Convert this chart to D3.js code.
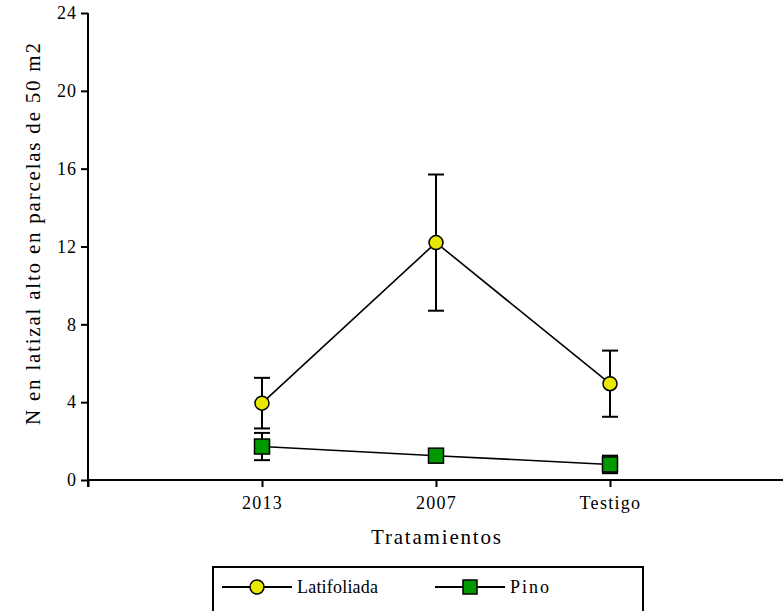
<!DOCTYPE html>
<html>
<head>
<meta charset="utf-8">
<script src="https://cdn.jsdelivr.net/npm/d3@7"></script>
<style>
body { margin: 0; background: #fff; }
</style>
</head>
<body>
<div id="chart"></div>
<script>
var categories = ["2013", "2007", "Testigo"];
var latifoliada = [3.95, 12.2, 4.95];
var latifoliadaErr = [1.3, 3.5, 1.7];
var pino = [1.72, 1.25, 0.8];
var pinoErr = [0.7, 0.12, 0.45];
var yTicks = [0, 4, 8, 12, 16, 20, 24];

var width = 783, height = 611,
	serif = "'Liberation Serif', 'Times New Roman', serif";

var svg = d3.select("#chart").append("svg")
	.attr("width", width)
	.attr("height", height)
	.style("font-family", serif);

// slots 0..4, the categories sit on 1..3
var xScale = d3.scaleLinear()
	.domain([0, 4])
	.range([88, 784]);

var yScale = d3.scaleLinear()
	.domain([0, 24])
	.range([480, 13]);

//y axis
var yAxis = d3.axisLeft(yScale)
	.tickValues(yTicks)
	.tickSize(7)
	.tickPadding(4);

var gy = svg.append("g")
	.attr("transform", "translate(88,0)")
	.call(yAxis)
	.attr("font-family", serif)
	.attr("font-size", 18);
gy.select(".domain").attr("d", "M0," + yScale(24) + "V" + (yScale(0) + 7)).attr("stroke-width", 2);
gy.selectAll(".tick line").attr("stroke-width", 2);
gy.selectAll(".tick text").attr("letter-spacing", 1);

//x axis
var xAxis = d3.axisBottom(xScale)
	.tickValues([0, 1, 2, 3, 4])
	.tickFormat(function(d) { return categories[d - 1] || ""; })
	.tickSize(7)
	.tickPadding(9);

var gx = svg.append("g")
	.attr("transform", "translate(0,480)")
	.call(xAxis)
	.attr("font-family", serif)
	.attr("font-size", 18);
gx.select(".domain").attr("d", "M" + xScale(0) + ",0H" + xScale(4)).attr("stroke-width", 2);
gx.selectAll(".tick line").attr("stroke-width", 2);
gx.selectAll(".tick text").attr("letter-spacing", 1.3);

//axis titles
svg.append("text")
	.attr("transform", "translate(40,234) rotate(-90)")
	.attr("text-anchor", "middle")
	.attr("font-size", 21)
	.attr("textLength", 382)
	.attr("lengthAdjust", "spacing")
	.text("N en latizal alto en parcelas de 50 m2");

svg.append("text")
	.attr("x", xScale(2))
	.attr("y", 544)
	.attr("text-anchor", "middle")
	.attr("font-size", 21)
	.attr("textLength", 130)
	.attr("lengthAdjust", "spacing")
	.text("Tratamientos");

var line = d3.line()
	.x(function(d, i) { return xScale(i + 1); })
	.y(function(d) { return yScale(d); });

function drawSeries(values, errs, shape, color) {
	var g = svg.append("g");

	g.append("path")
		.datum(values)
		.attr("d", line)
		.attr("fill", "none")
		.attr("stroke", "#000")
		.attr("stroke-width", 1.6);

	var eb = g.selectAll(".err")
		.data(values)
		.enter()
		.append("g")
		.attr("stroke", "#000")
		.attr("stroke-width", 2);

	eb.append("line")
		.attr("x1", function(d, i) { return xScale(i + 1); })
		.attr("x2", function(d, i) { return xScale(i + 1); })
		.attr("y1", function(d, i) { return yScale(d + errs[i]); })
		.attr("y2", function(d, i) { return yScale(d - errs[i]); });
	eb.append("line")
		.attr("x1", function(d, i) { return xScale(i + 1) - 8; })
		.attr("x2", function(d, i) { return xScale(i + 1) + 8; })
		.attr("y1", function(d, i) { return yScale(d + errs[i]); })
		.attr("y2", function(d, i) { return yScale(d + errs[i]); });
	eb.append("line")
		.attr("x1", function(d, i) { return xScale(i + 1) - 8; })
		.attr("x2", function(d, i) { return xScale(i + 1) + 8; })
		.attr("y1", function(d, i) { return yScale(d - errs[i]); })
		.attr("y2", function(d, i) { return yScale(d - errs[i]); });

	if (shape == "circle") {
		g.selectAll(".mark")
			.data(values)
			.enter()
			.append("circle")
			.attr("cx", function(d, i) { return xScale(i + 1); })
			.attr("cy", function(d) { return yScale(d); })
			.attr("r", 7)
			.attr("fill", color)
			.attr("stroke", "#000")
			.attr("stroke-width", 1.5);
	} else {
		g.selectAll(".mark")
			.data(values)
			.enter()
			.append("rect")
			.attr("x", function(d, i) { return xScale(i + 1) - 7.5; })
			.attr("y", function(d) { return yScale(d) - 7.5; })
			.attr("width", 15)
			.attr("height", 15)
			.attr("fill", color)
			.attr("stroke", "#000")
			.attr("stroke-width", 1.5);
	}
}

drawSeries(latifoliada, latifoliadaErr, "circle", "#e8e800");
drawSeries(pino, pinoErr, "square", "#009900");

//legend
var legend = svg.append("g");
legend.append("rect")
	.attr("x", 213)
	.attr("y", 567)
	.attr("width", 430)
	.attr("height", 60)
	.attr("fill", "none")
	.attr("stroke", "#000")
	.attr("stroke-width", 2);

legend.append("line").attr("x1", 222).attr("x2", 292).attr("y1", 587).attr("y2", 587)
	.attr("stroke", "#000").attr("stroke-width", 2);
legend.append("circle").attr("cx", 257).attr("cy", 587).attr("r", 7)
	.attr("fill", "#e8e800").attr("stroke", "#000").attr("stroke-width", 1.5);
legend.append("text").attr("x", 297).attr("y", 593).attr("font-size", 18)
	.attr("textLength", 81).attr("lengthAdjust", "spacing").text("Latifoliada");

legend.append("line").attr("x1", 435).attr("x2", 505).attr("y1", 587).attr("y2", 587)
	.attr("stroke", "#000").attr("stroke-width", 2);
legend.append("rect").attr("x", 463).attr("y", 580).attr("width", 14).attr("height", 14)
	.attr("fill", "#009900").attr("stroke", "#000").attr("stroke-width", 1.5);
legend.append("text").attr("x", 510).attr("y", 593).attr("font-size", 18)
	.attr("textLength", 39).attr("lengthAdjust", "spacing").text("Pino");
</script>
</body>
</html>
